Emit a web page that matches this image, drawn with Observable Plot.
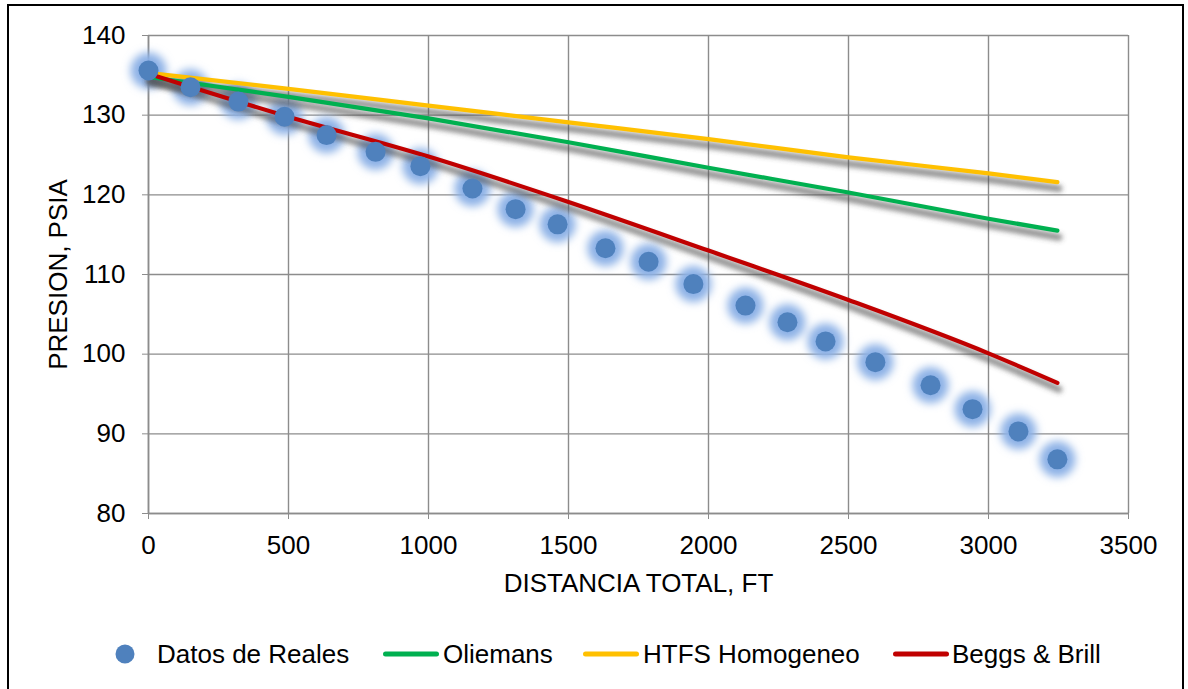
<!DOCTYPE html>
<html>
<head>
<meta charset="utf-8">
<script src="https://cdn.jsdelivr.net/npm/d3@7"></script>
<script src="https://cdn.jsdelivr.net/npm/@observablehq/plot@0.6"></script>
<style>
  html, body { margin: 0; padding: 0; overflow: hidden; background: #fff; }
  body { width: 1188px; height: 689px; position: relative; font-family: "Liberation Sans", Arial, sans-serif; }
  #marco { position: absolute; left: 7px; top: 4px; width: 1177px; height: 720px; border: 2px solid #000; box-sizing: border-box; pointer-events: none; }
  #grafico { position: absolute; left: 0; top: 0; }
  .leyenda-item { position: absolute; top: 654px; transform: translateY(-50%); font-size: 26px; color: #000; white-space: nowrap; line-height: 1; }
  .leyenda-punto { position: absolute; width: 19px; height: 19px; border-radius: 50%; background: #4F81BD; top: 654px; transform: translate(-50%, -50%); }
  .leyenda-linea { position: absolute; height: 5px; border-radius: 3px; top: 654px; transform: translateY(-50%); }
</style>
</head>
<body>
<div id="grafico"></div>
<div id="leyenda"></div>
<div id="marco"></div>
<script>
// Distancia total (ft) y presión medida (psia)
const distancia = [0, 150, 321, 486, 636, 811, 971, 1157, 1311, 1461, 1632, 1786, 1946, 2132, 2282, 2418, 2596, 2793, 2943, 3107, 3246];
const presionReal = [135.6, 133.5, 131.7, 129.8, 127.5, 125.4, 123.6, 120.8, 118.2, 116.3, 113.3, 111.6, 108.8, 106.1, 104.0, 101.6, 99.0, 96.1, 93.1, 90.3, 86.8];

// Presión calculada por cada correlación
const distanciaModelo = [0, 500, 1000, 1500, 2000, 2500, 3000, 3246];
const oliemans = [134.8, 132.3, 129.6, 126.6, 123.4, 120.3, 117.0, 115.5];
const htfs = [135.3, 133.3, 131.2, 129.1, 127.0, 124.7, 122.7, 121.6];
const beggsBrill = [135.2, 129.8, 124.8, 119.1, 113.0, 106.8, 100.1, 96.4];

// Ejes
const ticksX = [0, 500, 1000, 1500, 2000, 2500, 3000, 3500];
const ticksY = [80, 90, 100, 110, 120, 130, 140];

const series = [
  {nombre: "Oliemans", valores: oliemans, color: "#00B050"},
  {nombre: "HTFS Homogeneo", valores: htfs, color: "#FFC000"},
  {nombre: "Beggs & Brill", valores: beggsBrill, color: "#C00000"}
];

const puntos = distancia.map((d, i) => ({x: d, y: presionReal[i]}));
const lineas = series.map(s => ({
  ...s,
  datos: distanciaModelo.map((d, i) => ({x: d, y: s.valores[i]}))
}));

const gris = "#8c8c8c";
const fuente = "Liberation Sans, Arial, sans-serif";
const W = 1188, H = 610;

const chart = Plot.plot({
  width: W,
  height: H,
  marginLeft: 148,
  marginRight: 60,
  marginTop: 35,
  marginBottom: 97,
  style: {fontFamily: fuente, fontSize: "26px", color: "#000", background: "transparent", overflow: "visible"},
  x: {domain: [0, 3500]},
  y: {domain: [80, 140]},
  marks: [
    Plot.gridX(ticksX, {stroke: gris, strokeOpacity: 1, strokeWidth: 1.4}),
    Plot.gridY(ticksY, {stroke: gris, strokeOpacity: 1, strokeWidth: 1.4}),
    Plot.ruleY([80], {stroke: gris, strokeWidth: 1.6}),
    Plot.ruleX([0], {stroke: gris, strokeWidth: 1.6}),
    Plot.axisX(ticksX, {tickSize: 6, tickPadding: 16, stroke: gris, fill: "#000", fontSize: 26, label: null, tickFormat: d => String(d)}),
    Plot.axisY(ticksY, {tickSize: 6, tickPadding: 17, stroke: gris, fill: "#000", fontSize: 26, label: null, tickFormat: d => String(d)}),
    // halo de los puntos medidos
    Plot.dot(puntos, {x: "x", y: "y", r: 18, fill: "#8cb1e6", fillOpacity: 1, stroke: "none"}),
    // sombras de las curvas
    ...lineas.map(s => Plot.line(s.datos, {x: "x", y: "y", stroke: "#4d4d4d", strokeOpacity: 0.6, strokeWidth: 7, curve: "monotone-x"})),
    ...lineas.map(s => Plot.line(s.datos, {x: "x", y: "y", stroke: s.color, strokeWidth: 4.2, strokeLinecap: "round", curve: "monotone-x"})),
    Plot.dot(puntos, {x: "x", y: "y", r: 10, fill: "#4F81BD", stroke: "none"}),
    Plot.text(["DISTANCIA TOTAL, FT"], {frameAnchor: "bottom", dy: 70, fontSize: 26, fill: "#000", lineAnchor: "middle", textAnchor: "middle"}),
    Plot.text(["PRESION, PSIA"], {frameAnchor: "left", dx: -90, rotate: -90, fontSize: 26, fill: "#000", lineAnchor: "middle", textAnchor: "middle"})
  ]
});

// Filtros de desenfoque para el halo y las sombras
const svg = d3.select(chart.tagName.toLowerCase() === "svg" ? chart : chart.querySelector("svg"));
const defs = svg.insert("defs", ":first-child");
defs.append("filter").attr("id", "desenfoque-halo")
  .attr("filterUnits", "userSpaceOnUse").attr("x", 0).attr("y", 0).attr("width", W).attr("height", H)
  .append("feGaussianBlur").attr("stdDeviation", 4);
defs.append("filter").attr("id", "desenfoque-sombra")
  .attr("filterUnits", "userSpaceOnUse").attr("x", 0).attr("y", 0).attr("width", W).attr("height", H)
  .append("feGaussianBlur").attr("stdDeviation", 2.5);

const gruposPunto = svg.selectAll("g[aria-label='dot']").nodes();
d3.select(gruposPunto[0]).attr("filter", "url(#desenfoque-halo)");
const gruposLinea = svg.selectAll("g[aria-label='line']").nodes();
gruposLinea.slice(0, 3).forEach(g => d3.select(g).attr("filter", "url(#desenfoque-sombra)").attr("transform", "translate(2,7)"));

document.getElementById("grafico").appendChild(chart);

// Leyenda
const leyenda = document.getElementById("leyenda");
const punto = document.createElement("div");
punto.className = "leyenda-punto";
punto.style.left = "125px";
leyenda.appendChild(punto);
const etiquetaReal = document.createElement("div");
etiquetaReal.className = "leyenda-item";
etiquetaReal.style.left = "157px";
etiquetaReal.textContent = "Datos de Reales";
leyenda.appendChild(etiquetaReal);

const posiciones = [{linea: 383, texto: 443}, {linea: 583, texto: 643}, {linea: 893, texto: 952}];
series.forEach((s, i) => {
  const l = document.createElement("div");
  l.className = "leyenda-linea";
  l.style.left = posiciones[i].linea + "px";
  l.style.width = "56px";
  l.style.background = s.color;
  leyenda.appendChild(l);
  const t = document.createElement("div");
  t.className = "leyenda-item";
  t.style.left = posiciones[i].texto + "px";
  t.textContent = s.nombre;
  leyenda.appendChild(t);
});
</script>
</body>
</html>
